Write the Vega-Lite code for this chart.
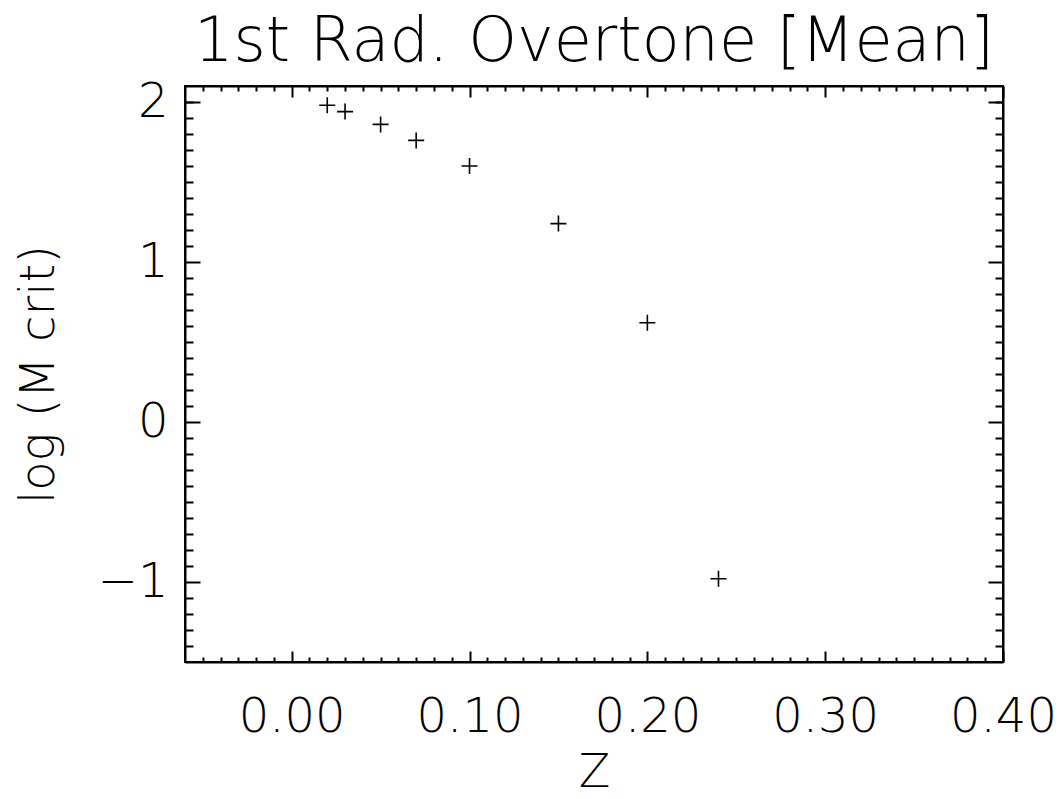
{
  "$schema": "https://vega.github.io/schema/vega-lite/v6.json",
  "autosize": "none",
  "padding": {"left": 185, "top": 86, "right": 58, "bottom": 137},
  "width": 818,
  "height": 576,
  "background": "white",
  "title": {"text": "1st Rad. Overtone [Mean]", "fontSize": 62, "fontWeight": 200, "font": "DejaVu Sans", "color": "black", "offset": 4, "anchor": "middle"},
  "config": {
    "font": "DejaVu Sans",
    "view": {"stroke": "black", "strokeWidth": 2},
    "axis": {"domainColor": "black", "domainWidth": 2, "tickColor": "black", "tickWidth": 2, "grid": false, "labelColor": "black", "labelFontSize": 48, "labelFontWeight": 200, "titleColor": "black", "titleFontSize": 48, "titleFontWeight": 200}
  },
  "data": {"values": [
    {"Z": 0.02, "logM": 1.98},
    {"Z": 0.03, "logM": 1.94},
    {"Z": 0.05, "logM": 1.86},
    {"Z": 0.07, "logM": 1.76},
    {"Z": 0.10, "logM": 1.60},
    {"Z": 0.15, "logM": 1.24},
    {"Z": 0.20, "logM": 0.62},
    {"Z": 0.24, "logM": -0.98}
  ]},
  "resolve": {"axis": {"x": "independent", "y": "independent"}},
  "layer": [
    {
      "mark": {"type": "point", "shape": "M-1,0L1,0M0,-1L0,1", "filled": false, "stroke": "black", "strokeWidth": 1.6, "size": 256, "opacity": 1},
      "encoding": {
        "x": {"field": "Z", "type": "quantitative", "scale": {"domain": [-0.06, 0.40], "zero": false, "nice": false},
          "axis": {"orient": "bottom", "values": [0, 0.1, 0.2, 0.3, 0.4], "format": ".2f", "tickSize": -11, "labelPadding": 42, "title": "Z", "titleFontSize": 46, "titlePadding": 9, "labelFlush": false}},
        "y": {"field": "logM", "type": "quantitative", "scale": {"domain": [-1.5, 2.1], "zero": false, "nice": false},
          "axis": {"orient": "left", "values": [-1, 0, 1, 2], "format": "d", "tickSize": -15, "labelPadding": 32, "title": "log (M crit)", "titlePadding": 34, "labelFlush": false}}
      }
    },
    {
      "mark": {"type": "point", "opacity": 0},
      "encoding": {
        "x": {"field": "Z", "type": "quantitative", "axis": {"orient": "top", "values": [0, 0.1, 0.2, 0.3, 0.4], "tickSize": -11, "labels": false, "title": null}},
        "y": {"field": "logM", "type": "quantitative", "axis": {"orient": "right", "values": [-1, 0, 1, 2], "tickSize": -15, "labels": false, "title": null}}
      }
    },
    {
      "mark": {"type": "point", "opacity": 0},
      "encoding": {
        "x": {"field": "Z", "type": "quantitative", "axis": {"orient": "bottom", "values": [-0.05,-0.04,-0.03,-0.02,-0.01,0.01,0.02,0.03,0.04,0.05,0.06,0.07,0.08,0.09,0.11,0.12,0.13,0.14,0.15,0.16,0.17,0.18,0.19,0.21,0.22,0.23,0.24,0.25,0.26,0.27,0.28,0.29,0.31,0.32,0.33,0.34,0.35,0.36,0.37,0.38,0.39], "tickSize": -5, "labels": false, "domain": false, "title": null}},
        "y": {"field": "logM", "type": "quantitative", "axis": {"orient": "left", "values": [-1.4,-1.3,-1.2,-1.1,-0.9,-0.8,-0.7,-0.6,-0.5,-0.4,-0.3,-0.2,-0.1,0.1,0.2,0.3,0.4,0.5,0.6,0.7,0.8,0.9,1.1,1.2,1.3,1.4,1.5,1.6,1.7,1.8,1.9,2.0], "tickSize": -8, "labels": false, "domain": false, "title": null}}
      }
    },
    {
      "mark": {"type": "point", "opacity": 0},
      "encoding": {
        "x": {"field": "Z", "type": "quantitative", "axis": {"orient": "top", "values": [-0.05,-0.04,-0.03,-0.02,-0.01,0.01,0.02,0.03,0.04,0.05,0.06,0.07,0.08,0.09,0.11,0.12,0.13,0.14,0.15,0.16,0.17,0.18,0.19,0.21,0.22,0.23,0.24,0.25,0.26,0.27,0.28,0.29,0.31,0.32,0.33,0.34,0.35,0.36,0.37,0.38,0.39], "tickSize": -5, "labels": false, "domain": false, "title": null}},
        "y": {"field": "logM", "type": "quantitative", "axis": {"orient": "right", "values": [-1.4,-1.3,-1.2,-1.1,-0.9,-0.8,-0.7,-0.6,-0.5,-0.4,-0.3,-0.2,-0.1,0.1,0.2,0.3,0.4,0.5,0.6,0.7,0.8,0.9,1.1,1.2,1.3,1.4,1.5,1.6,1.7,1.8,1.9,2.0], "tickSize": -8, "labels": false, "domain": false, "title": null}}
      }
    }
  ]
}
